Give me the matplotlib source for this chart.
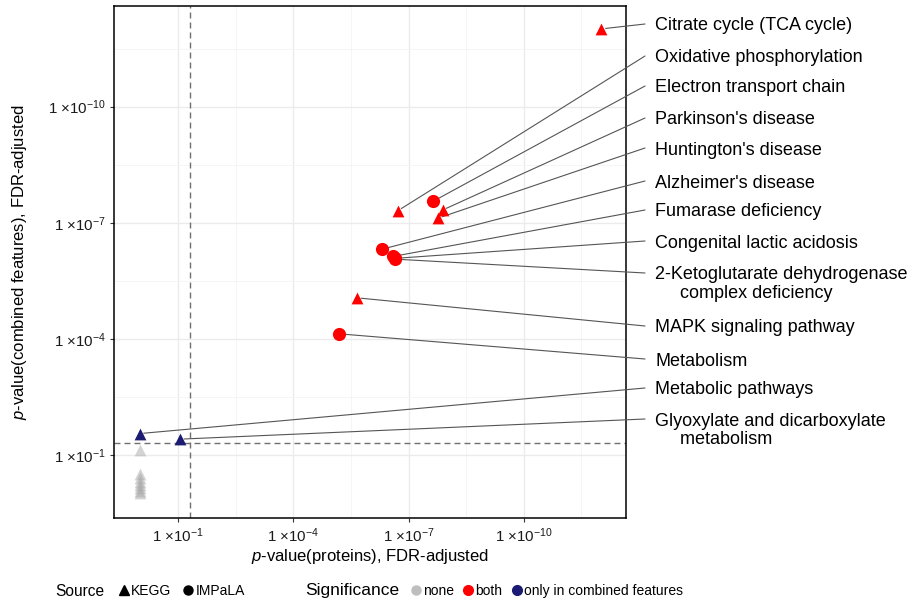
import numpy as np
import matplotlib.pyplot as plt
from matplotlib.lines import Line2D
from matplotlib.ticker import FixedLocator, FuncFormatter, NullFormatter

plt.rcParams['font.family'] = 'Liberation Sans'
plt.rcParams['mathtext.fontset'] = 'custom'
plt.rcParams['mathtext.rm'] = 'Liberation Sans'
plt.rcParams['mathtext.it'] = 'Liberation Sans:italic'

# enrichment results, FDR-adjusted p-values
pathways = ['Citrate cycle (TCA cycle)', 'Oxidative phosphorylation',
            'Electron transport chain', "Parkinson's disease",
            "Huntington's disease", "Alzheimer's disease",
            'Fumarase deficiency', 'Congenital lactic acidosis',
            '2-Ketoglutarate dehydrogenase\n     complex deficiency',
            'MAPK signaling pathway', 'Metabolism', 'Metabolic pathways',
            'Glyoxylate and dicarboxylate\n     metabolism',
            '', '', '', '', '', '', '', '']
p_proteins = [9.5e-13, 1.9e-7, 2.3e-8, 1.3e-8, 1.7e-8, 4.8e-7, 2.5e-7, 2.2e-7,
              2.3e-7, 2.2e-6, 6.5e-6, 1.0, 0.089,
              1.0, 1.0, 1.0, 1.0, 1.0, 1.0, 1.0, 1.0]
p_combined = [9.8e-13, 4.9e-8, 2.8e-8, 4.7e-8, 7.6e-8, 4.8e-7, 7.4e-7, 8.3e-7,
              8.7e-7, 8.7e-6, 7.4e-5, 0.028, 0.039,
              0.074, 0.31, 0.39, 0.50, 0.60, 0.71, 0.85, 0.95]
source = ['KEGG', 'KEGG', 'IMPaLA', 'KEGG', 'KEGG', 'IMPaLA', 'IMPaLA', 'IMPaLA',
          'IMPaLA', 'KEGG', 'IMPaLA', 'KEGG', 'KEGG',
          'KEGG', 'KEGG', 'KEGG', 'KEGG', 'KEGG', 'KEGG', 'KEGG', 'KEGG']
significance = ['both'] * 11 + ['only in combined features'] * 2 + ['none'] * 8

# label rows on the right (pixel rows of the first text line)
label_rows = [24, 56, 86, 118, 148, 181, 210, 241, 273, 326, 359, 388, 419]

colors = {'none': '#a9a9a9', 'both': '#ff0000', 'only in combined features': '#1b1b74'}
alphas = {'none': 0.5, 'both': 1.0, 'only in combined features': 1.0}
markers = {'KEGG': '^', 'IMPaLA': 'o'}
sizes = {'KEGG': 72, 'IMPaLA': 90}

W, H = 913, 604
fig = plt.figure(figsize=(W / 100, H / 100), dpi=100)
ax = fig.add_axes([114 / W, 86 / H, 512 / W, 512 / H])

x = np.array(p_proteins)
y = np.array(p_combined)
for src in markers:
    for sig in colors:
        idx = [i for i in range(len(x)) if source[i] == src and significance[i] == sig]
        if idx:
            ax.scatter(x[idx], y[idx], marker=markers[src], s=sizes[src],
                       c=colors[sig], alpha=alphas[sig], linewidths=0, zorder=4)

ax.axvline(0.05, color='#707070', lw=1.0, dashes=(4.3, 2.9), zorder=2)
ax.axhline(0.05, color='#707070', lw=1.0, dashes=(4.3, 2.9), zorder=2)

ax.set_xscale('log')
ax.set_yscale('log')
ax.set_xlim(10 ** 0.665, 10 ** -12.66)
ax.set_ylim(10 ** 0.628, 10 ** -12.60)

major = [1e-1, 1e-4, 1e-7, 1e-10]
minor = [10 ** -2.5, 10 ** -5.5, 10 ** -8.5, 10 ** -11.5]
fmt = FuncFormatter(lambda v, pos: '1 \u00d710$^{%d}$' % round(np.log10(v)))
for axis in (ax.xaxis, ax.yaxis):
    axis.set_major_locator(FixedLocator(major))
    axis.set_minor_locator(FixedLocator(minor))
    axis.set_major_formatter(fmt)
    axis.set_minor_formatter(NullFormatter())

ax.grid(which='major', color='#ebebeb', lw=1.0, zorder=0)
ax.grid(which='minor', color='#f4f4f4', lw=0.6, zorder=0)
ax.set_axisbelow(True)
ax.tick_params(which='major', length=3, width=0.8, color='#333333',
               labelsize=10.8, labelcolor='#1a1a1a', pad=3)
ax.tick_params(which='minor', length=0)
for sp in ax.spines.values():
    sp.set_color('black')
    sp.set_linewidth(1.1)

# leader lines and pathway names
for i, row in enumerate(label_rows):
    ax.annotate('', xy=(x[i], y[i]), xycoords='data',
                xytext=(645 / W, 1 - row / H), textcoords='figure fraction',
                arrowprops=dict(arrowstyle='-', color='#555555', lw=0.8,
                                shrinkA=0, shrinkB=3),
                annotation_clip=False, zorder=3)
    for k, line in enumerate(pathways[i].split('\n')):
        fig.text(655 / W, 1 - (row + 6.5 + 18 * k) / H, line, ha='left',
                 va='baseline', fontsize=13, color='black')

fig.text(370 / W, 1 - 557 / H, '$p$-value(proteins), FDR-adjusted',
         ha='center', va='center', fontsize=12)
fig.text(20 / W, 1 - 262 / H, '$p$-value(combined features), FDR-adjusted',
         ha='center', va='center', rotation=90, fontsize=12)

# legends along the bottom
fig.text(55 / W, 1 - 591 / H, 'Source', ha='left', va='center', fontsize=11.2)
fig.text(305 / W, 1 - 591 / H, 'Significance', ha='left', va='center', fontsize=12.5)

src_handles = [Line2D([], [], ls='', marker='^', ms=6.5, color='black'),
               Line2D([], [], ls='', marker='o', ms=6.5, color='black')]
leg1 = fig.legend(src_handles, ['KEGG', 'IMPaLA'], loc='center left',
                  bbox_to_anchor=(119 / W, 1 - 591 / H), ncol=2, frameon=False,
                  fontsize=10, handlelength=0.7, handletextpad=0.15,
                  columnspacing=0.9, borderpad=0, borderaxespad=0)
sig_handles = [Line2D([], [], ls='', marker='o', ms=6.5, color='#bebebe'),
               Line2D([], [], ls='', marker='o', ms=7, color=colors['both']),
               Line2D([], [], ls='', marker='o', ms=7, color=colors['only in combined features'])]
leg2 = fig.legend(sig_handles, ['none', 'both', 'only in combined features'],
                  loc='center left', bbox_to_anchor=(411 / W, 1 - 591 / H),
                  ncol=3, frameon=False, fontsize=10, handlelength=0.7,
                  handletextpad=0.15, columnspacing=0.7, borderpad=0,
                  borderaxespad=0)

fig.savefig('out.png', dpi=100)
